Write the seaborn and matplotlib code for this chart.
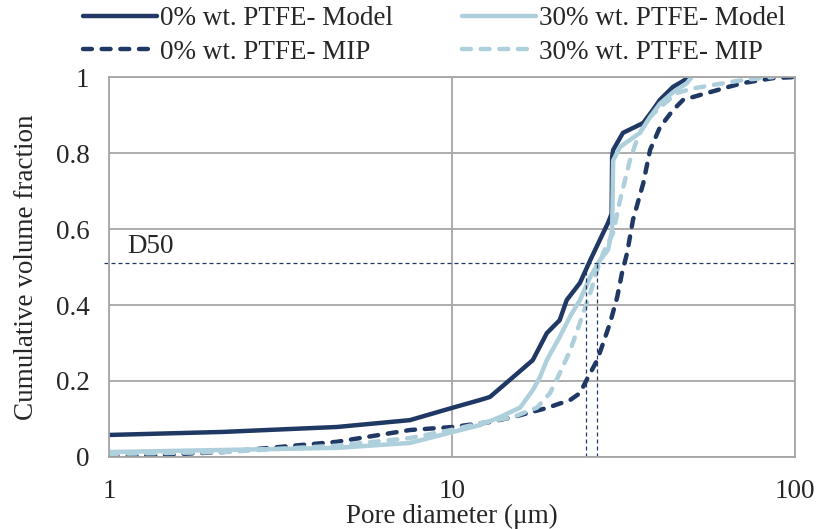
import numpy as np
import pandas as pd
import matplotlib
matplotlib.use("Agg")
import matplotlib.pyplot as plt
import seaborn as sns

# --- data (pore diameter in um, cumulative fraction) ---
model0_d = [1.0, 2.15, 4.62, 7.54, 10.07, 12.07, 12.9, 15.06, 17.2, 18.9, 20.6, 21.6,
            23.6, 25.3, 27.6, 28.5, 29.2, 29.3, 29.5, 31.5, 36.1, 38.5, 40.4, 44.1, 49.4]
model0_v = [0.058, 0.066, 0.079, 0.097, 0.13, 0.15, 0.158, 0.21, 0.255, 0.326, 0.36, 0.413,
            0.458, 0.518, 0.59, 0.616, 0.64, 0.79, 0.808, 0.853, 0.879, 0.913, 0.94, 0.974, 1.0]

model30_d = [1.0, 4.62, 7.54, 10.07, 12.07, 13.8, 15.8, 17.2, 18.05, 18.9, 20.6, 22.1,
             23.6, 25.3, 27.0, 28.5, 29.3, 29.5, 30.9, 35.3, 37.8, 40.4, 44.1, 48.4, 50.0]
model30_v = [0.013, 0.024, 0.037, 0.066, 0.084, 0.105, 0.13, 0.176, 0.21, 0.255, 0.316, 0.37,
             0.413, 0.474, 0.518, 0.545, 0.597, 0.78, 0.816, 0.853, 0.895, 0.93, 0.96, 0.984, 1.0]

mip0_d = [1.0, 2.15, 4.62, 7.54, 10.07, 12.9, 15.06, 18.9, 22.1, 23.6, 24.7, 26.5, 27.6,
          28.9, 30.3, 31.3, 32.4, 33.7, 36.1, 37.8, 40.4, 44.1, 47.2, 56.5, 64.6, 70.5, 86.3, 100.0]
mip0_v = [0.0, 0.013, 0.04, 0.071, 0.079, 0.092, 0.105, 0.129, 0.15, 0.168, 0.203, 0.255, 0.3,
          0.353, 0.42, 0.484, 0.537, 0.624, 0.72, 0.808, 0.868, 0.913, 0.94, 0.96, 0.975, 0.984, 0.997, 1.0]

mip30_d = [1.0, 2.15, 4.62, 7.54, 10.07, 12.07, 15.06, 17.7, 19.3, 20.6, 22.1, 23.6, 25.3,
           26.5, 27.6, 29.5, 30.9, 33.0, 34.8, 37.0, 40.4, 45.3, 50.4, 57.7, 70.5, 86.3]
mip30_v = [0.008, 0.013, 0.03, 0.05, 0.072, 0.089, 0.105, 0.13, 0.168, 0.22, 0.28, 0.353, 0.432,
           0.492, 0.537, 0.59, 0.676, 0.78, 0.842, 0.887, 0.92, 0.958, 0.97, 0.979, 0.992, 1.0]

d50_level = 0.51
d50_x = [24.6, 26.5]
d50_span = [0.97, 100.0]

x_ticks = [1, 10, 100]
x_labels = ["1", "10", "100"]
y_ticks = [0, 0.2, 0.4, 0.6, 0.8, 1.0]
y_labels = ["0", "0.2", "0.4", "0.6", "0.8", "1"]

dark = "#203864"
light = "#AECFDC"
grid_c = "#A6A6A6"
fs = 19.5

sns.set_style("white")
plt.rcParams["font.family"] = ["Liberation Serif", "DejaVu Serif"]
plt.rcParams["font.size"] = fs

fig = plt.figure(figsize=(8.19, 5.29), dpi=100)
ax = fig.add_axes([109 / 819, 1 - 457 / 529, (795 - 109) / 819, (457 - 77) / 529])

dash = (0, (2.0, 2.2))
series = [
    ("0% wt. PTFE- MIP", mip0_d, mip0_v, dark, dash),
    ("30% wt. PTFE- MIP", mip30_d, mip30_v, light, dash),
    ("0% wt. PTFE- Model", model0_d, model0_v, dark, "-"),
    ("30% wt. PTFE- Model", model30_d, model30_v, light, "-"),
]
for name, d, v, c, ls in series:
    df = pd.DataFrame({"d": d, "v": v})
    sns.lineplot(data=df, x="d", y="v", ax=ax, color=c, linewidth=3.2, linestyle=ls,
                 label=name, estimator=None, sort=False,
                 solid_capstyle="round", dash_capstyle="round")

# D50 guides
ax.plot(d50_span, [d50_level, d50_level], color=dark, lw=0.9, ls=(0, (3.2, 2.4)), clip_on=False)
for xv in d50_x:
    ax.plot([xv, xv], [0, d50_level], color=dark, lw=0.9, ls=(0, (3.2, 2.4)))
ax.text(1.13, 0.553, "D50", fontsize=fs, ha="left", va="center")

ax.set_xscale("log")
ax.set_xlim(1, 100)
ax.set_ylim(0, 1)
ax.set_xticks(x_ticks)
ax.set_xticklabels(x_labels)
ax.xaxis.set_minor_locator(matplotlib.ticker.NullLocator())
ax.set_yticks(y_ticks)
ax.set_yticklabels(y_labels)
ax.tick_params(axis="both", length=0, labelsize=fs)
ax.tick_params(axis="y", pad=14)
ax.tick_params(axis="x", pad=16)
ax.grid(True, color=grid_c, lw=1.3)
ax.set_axisbelow(True)
for s in ax.spines.values():
    s.set_color(grid_c)
    s.set_linewidth(1.3)

ax.set_xlabel("Pore diameter (μm)", fontsize=fs, labelpad=0)
ax.set_ylabel("Cumulative volume fraction", fontsize=fs, labelpad=12)

handles, labels = ax.get_legend_handles_labels()
ax.legend_.remove()
order = [2, 0, 3, 1]
fig.legend([handles[i] for i in order], [labels[i] for i in order],
           loc="upper left", bbox_to_anchor=(83 / 819, 1 - 6 / 529), ncol=2,
           frameon=False, fontsize=fs, handlelength=2.73, handletextpad=0.11,
           columnspacing=2.55, labelspacing=0.32, borderpad=0, borderaxespad=0)

fig.savefig("out.png", dpi=100)
